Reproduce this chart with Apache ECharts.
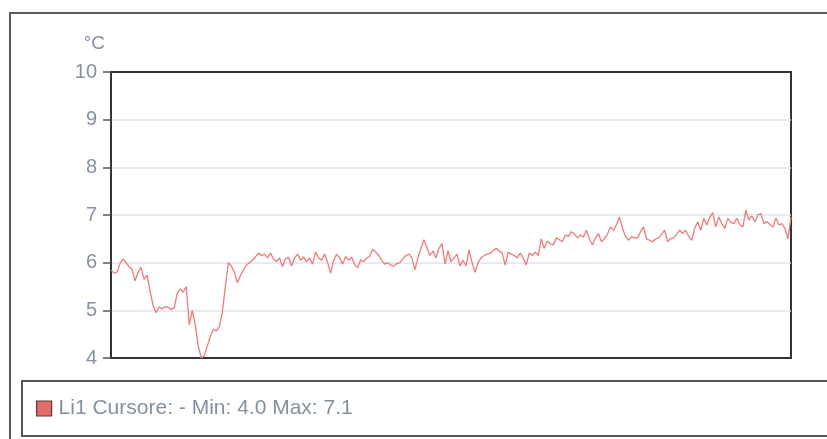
<!DOCTYPE html>
<html>
<head>
<meta charset="utf-8">
<script src="https://cdn.jsdelivr.net/npm/echarts@6/dist/echarts.min.js"></script>
<style>
  html, body { margin: 0; padding: 0; background: #ffffff; }
  #chart { width: 827px; height: 439px; }
</style>
</head>
<body>
<div id="chart"></div>
<script>
// Temperature trace for probe Li1, in °C, one reading per sample
const seriesName = 'Li1';
const unitLabel = '°C';
const yTicks = [4, 5, 6, 7, 8, 9, 10];

// Start of the log: drop to the minimum and recovery
const readingsStart = [
  5.85, 5.78, 5.8, 5.98, 6.08, 6.0, 5.92, 5.86, 5.62, 5.8,
  5.9, 5.65, 5.74, 5.4, 5.1, 4.95, 5.07, 5.03, 5.08, 5.06,
  5.02, 5.05, 5.35, 5.45, 5.38,
  5.5, 4.7, 5.0, 4.7, 4.25, 4.0, 4.05, 4.25, 4.45, 4.6,
  4.57, 4.65, 4.95, 5.5, 6.0, 5.93, 5.8, 5.58, 5.72, 5.85, 5.95
];
// Steady stretch around 6 °C
const readingsSteady = [
  6.0, 6.05, 6.12, 6.2, 6.15, 6.18, 6.1, 6.2, 6.08, 6.02,
  6.1, 5.92, 6.08, 6.12, 5.93, 6.1, 6.18, 6.05, 6.12, 6.02,
  6.1, 5.97, 6.22, 6.1, 6.05, 6.18, 6.0, 5.78, 6.05, 6.18,
  6.1, 5.97, 6.13, 6.05, 6.12, 5.95, 5.9, 6.06, 6.02, 6.1,
  6.13, 6.28, 6.22, 6.15, 6.05, 5.97, 6.0
];
const readingsMiddle = [
  5.95, 5.93, 5.98, 6.0, 6.08, 6.15, 6.18, 6.1, 5.85, 6.1,
  6.3, 6.48, 6.32, 6.15, 6.25, 6.1, 6.3, 6.4, 5.97, 6.25,
  6.02, 6.1, 6.18, 5.93, 6.05, 5.93, 6.27, 6.0, 5.8, 6.0,
  6.1, 6.15, 6.18, 6.2, 6.25, 6.3, 6.25, 6.2, 5.95, 6.22,
  6.18, 6.15, 6.1
];
// Slow warming towards the end of the log
const readingsRising = [
  6.2, 6.1, 5.95, 6.2, 6.15, 6.22, 6.15, 6.5, 6.3, 6.45,
  6.4, 6.37, 6.52, 6.48, 6.44, 6.58, 6.55, 6.65, 6.6, 6.52,
  6.58, 6.54, 6.68, 6.5, 6.37, 6.52, 6.61, 6.44, 6.5, 6.6,
  6.75, 6.68, 6.8, 6.96, 6.72, 6.55, 6.47, 6.54, 6.52, 6.52,
  6.65, 6.75, 6.5, 6.47, 6.44, 6.5, 6.52
];
const readingsEnd = [
  6.6, 6.68, 6.44, 6.5, 6.52, 6.6, 6.68, 6.61, 6.68, 6.55,
  6.47, 6.72, 6.86, 6.68, 6.93, 6.79, 6.95, 7.05, 6.75, 6.96,
  6.82, 6.72, 6.93, 6.85, 6.82, 6.93, 6.8, 6.75, 7.1, 6.89,
  6.98, 6.86, 7.0, 7.03, 6.82, 6.86, 6.8, 6.75, 6.93, 6.79,
  6.82, 6.72, 6.5, 6.96
];

const temperature = [].concat(readingsStart, readingsSteady, readingsMiddle, readingsRising, readingsEnd);
const sampleIndex = temperature.map((_, i) => String(i + 1));

const tMin = Math.min.apply(null, temperature);
const tMax = Math.max.apply(null, temperature);

const textGrey = '#8491a1';
const fontFamily = '"Liberation Sans", Arial, sans-serif';

const chart = echarts.init(document.getElementById('chart'), null, { renderer: 'canvas' });

chart.setOption({
  animation: false,
  backgroundColor: '#ffffff',
  grid: {
    left: 111, top: 72, width: 680, height: 286,
    show: true, borderColor: '#333333', borderWidth: 2,
    containLabel: false
  },
  xAxis: {
    type: 'category',
    data: sampleIndex,
    boundaryGap: false,
    axisLine: { show: true, lineStyle: { color: '#333333', width: 2 } },
    axisTick: { show: false },
    axisLabel: { show: false },
    splitLine: { show: false }
  },
  yAxis: {
    type: 'value',
    min: yTicks[0],
    max: yTicks[yTicks.length - 1],
    interval: 1,
    name: unitLabel,
    nameLocation: 'end',
    nameGap: 19,
    nameTextStyle: { color: textGrey, fontSize: 19, fontFamily: fontFamily, align: 'right', padding: [0, 6, 0, 0] },
    axisLine: { show: true, lineStyle: { color: '#333333', width: 2 } },
    axisTick: { show: true, length: 8, lineStyle: { color: '#555555', width: 1.5 } },
    axisLabel: { color: textGrey, fontSize: 20, fontFamily: fontFamily, margin: 14 },
    splitLine: { show: true, showMinLine: false, showMaxLine: false, lineStyle: { color: '#dfe4ea', width: 1.5 } }
  },
  legend: {
    left: 31, top: 393,
    icon: 'rect',
    itemWidth: 15, itemHeight: 15, itemGap: 10,
    itemStyle: { color: '#e56b6b', borderColor: '#5e3838', borderWidth: 1.2 },
    textStyle: { color: textGrey, fontSize: 21, fontFamily: fontFamily, padding: [0, 0, 0, 2] },
    formatter: name => name + ' Cursore: - Min: ' + tMin.toFixed(1) + ' Max: ' + tMax.toFixed(1),
    data: [seriesName]
  },
  graphic: [
    {
      type: 'rect', silent: true, z: -10,
      shape: { x: 10, y: 13, width: 900, height: 500 },
      style: { fill: 'none', stroke: '#5c5c5c', lineWidth: 2 }
    },
    {
      type: 'rect', silent: true, z: -10,
      shape: { x: 22, y: 381, width: 900, height: 55 },
      style: { fill: 'none', stroke: '#555555', lineWidth: 2 }
    }
  ],
  series: [
    {
      name: seriesName,
      type: 'line',
      data: temperature,
      showSymbol: false,
      symbol: 'none',
      smooth: false,
      lineStyle: { color: '#f07a7a', width: 1.3 },
      itemStyle: { color: '#e56b6b' }
    }
  ]
});
</script>
</body>
</html>
